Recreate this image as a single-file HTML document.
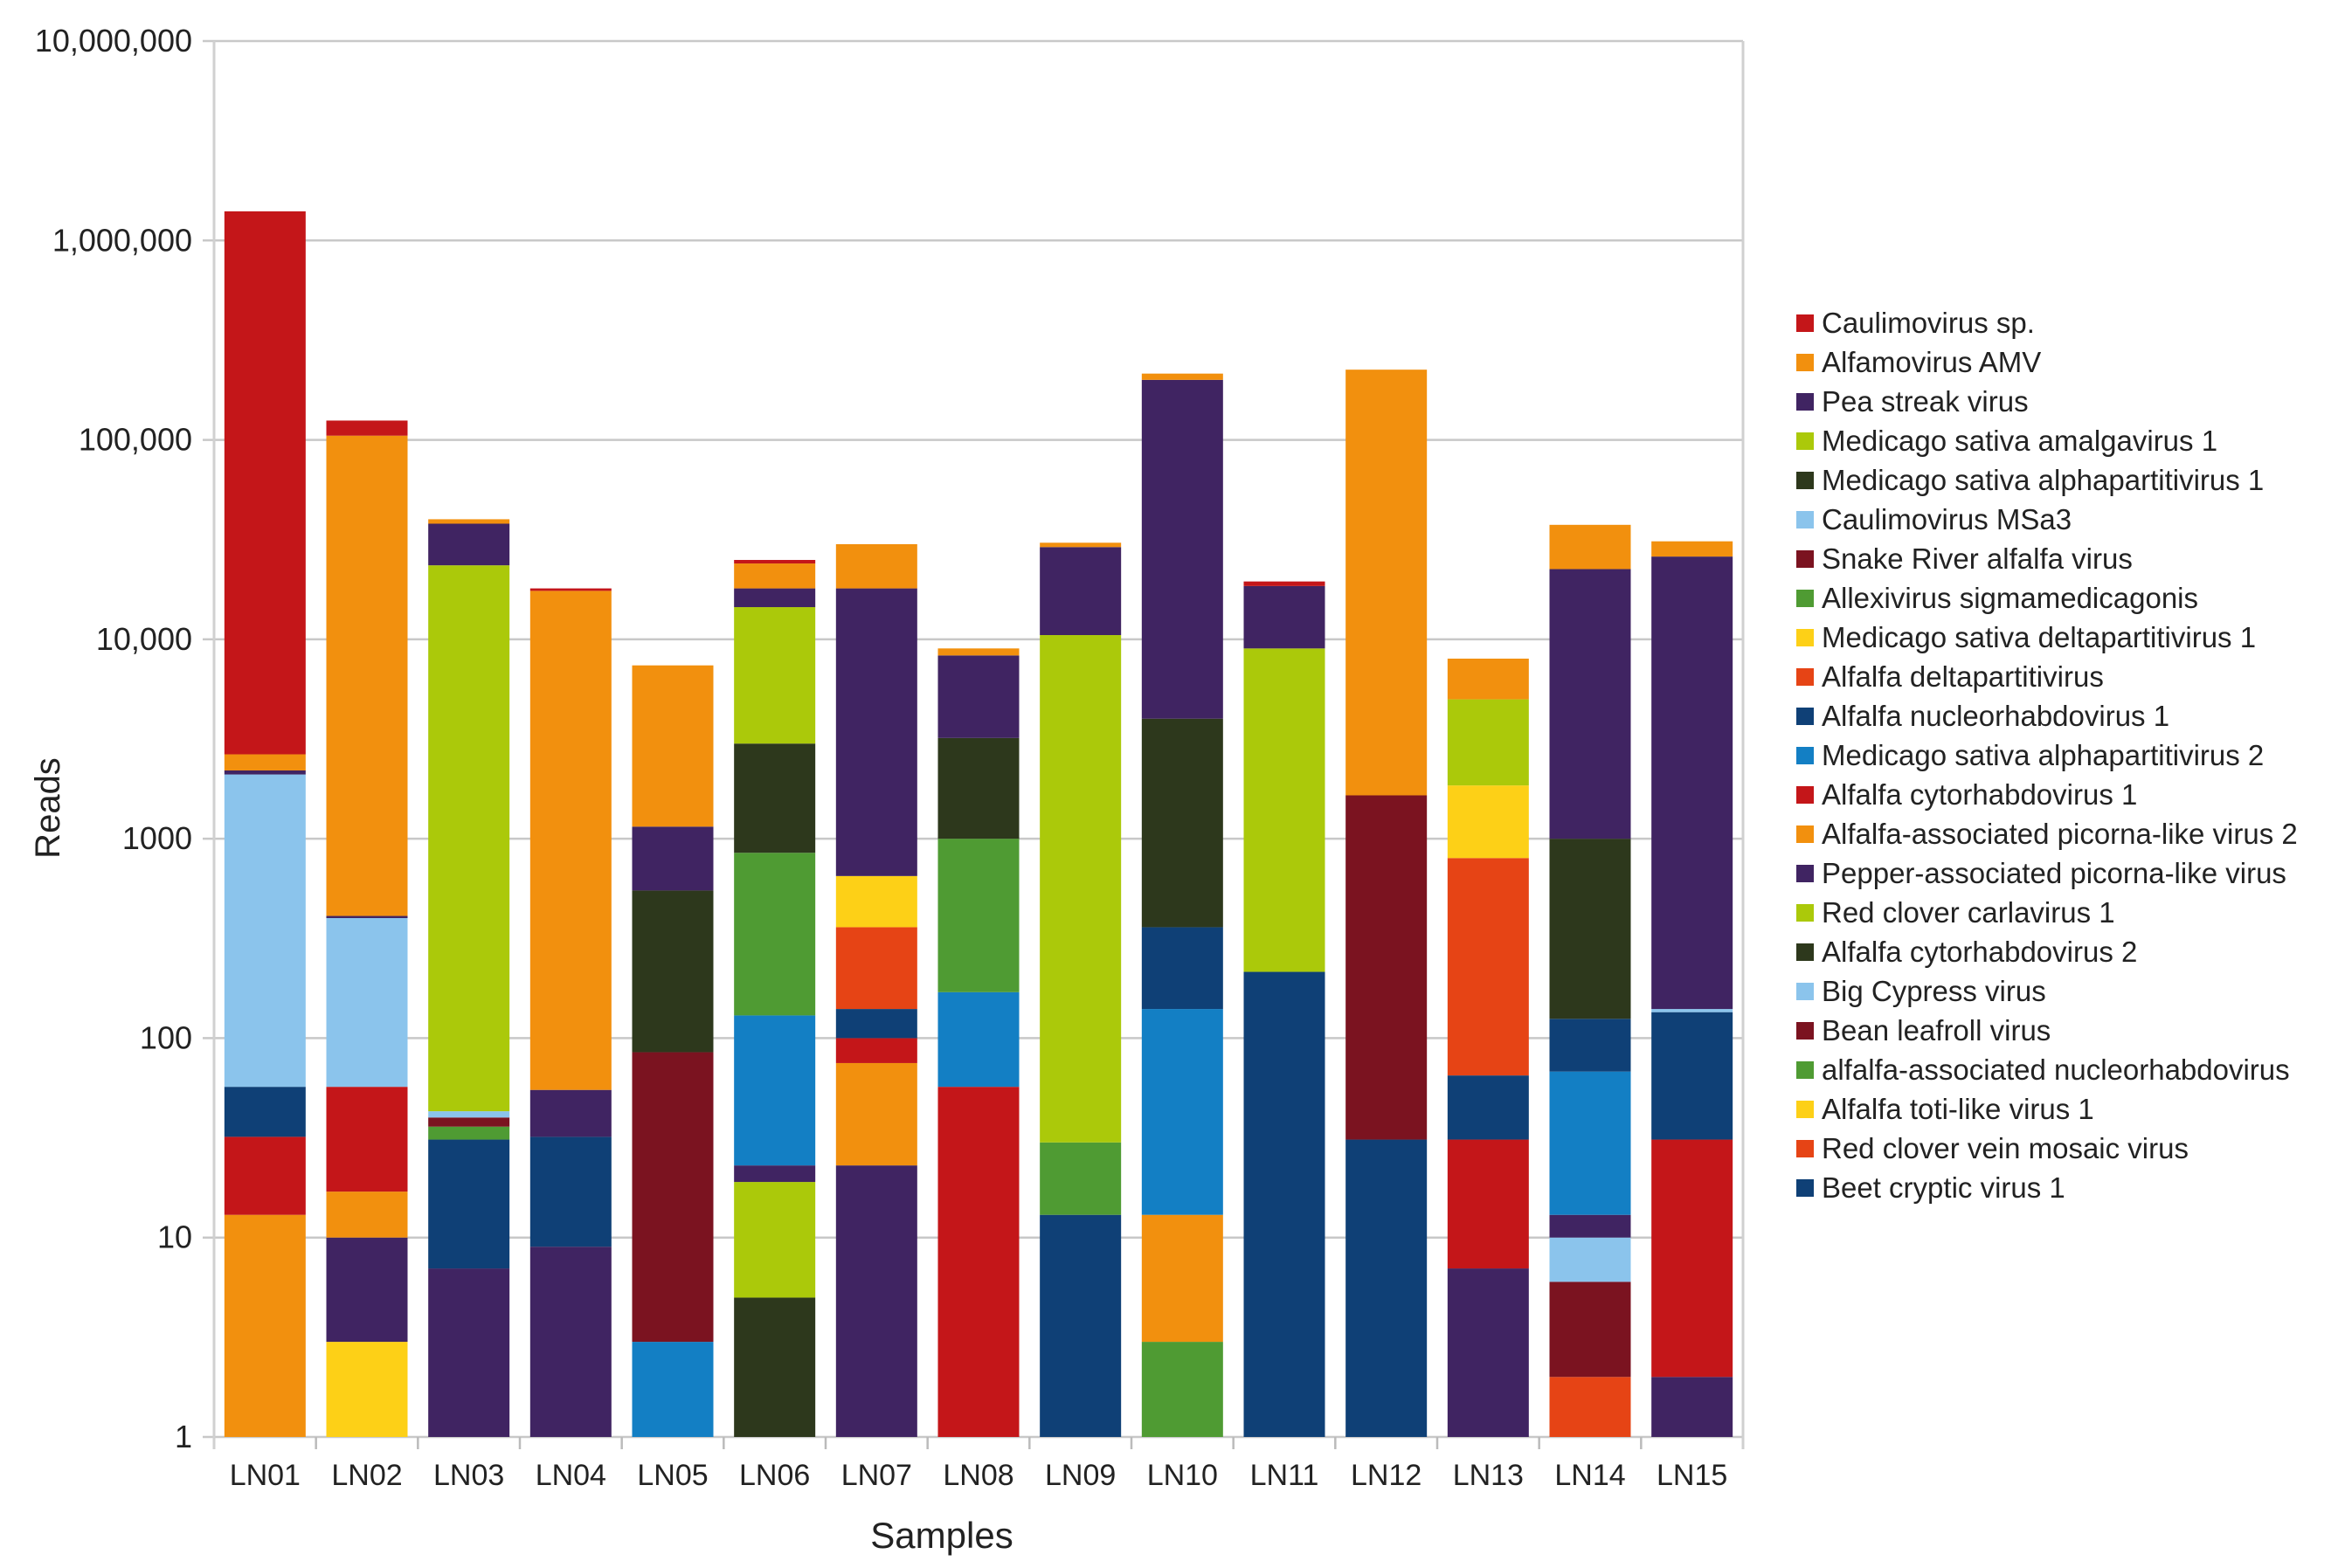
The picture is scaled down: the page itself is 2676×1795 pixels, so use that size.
<!DOCTYPE html>
<html><head><meta charset="utf-8"><style>
html,body{margin:0;padding:0;background:#fff;}
svg{display:block;font-family:"Liberation Sans",sans-serif;}
</style></head><body>
<svg id="chart" width="2676" height="1795" viewBox="0 0 2676 1795" xmlns="http://www.w3.org/2000/svg">
<g id="grid"></g>
<g id="bars"></g>
<g id="axes"></g>
<g id="legend"></g>
<text x="1078" y="1772" font-size="42" text-anchor="middle" fill="#222">Samples</text>
<text transform="translate(68,925) rotate(-90)" font-size="40" text-anchor="middle" fill="#222">Reads</text>
</svg>
<script>
const categories = ["LN01","LN02","LN03","LN04","LN05","LN06","LN07","LN08","LN09","LN10","LN11","LN12","LN13","LN14","LN15"];
const seriesNames = ["Beet cryptic virus 1","Red clover vein mosaic virus","Alfalfa toti-like virus 1","alfalfa-associated nucleorhabdovirus","Bean leafroll virus","Big Cypress virus","Alfalfa cytorhabdovirus 2","Red clover carlavirus 1","Pepper-associated picorna-like virus","Alfalfa-associated picorna-like virus 2","Alfalfa cytorhabdovirus 1","Medicago sativa alphapartitivirus 2","Alfalfa nucleorhabdovirus 1","Alfalfa deltapartitivirus","Medicago sativa deltapartitivirus 1","Allexivirus sigmamedicagonis","Snake River alfalfa virus","Caulimovirus MSa3","Medicago sativa alphapartitivirus 1","Medicago sativa amalgavirus 1","Pea streak virus","Alfamovirus AMV","Caulimovirus sp."];
const seriesColors = ["#0f4076","#e64415","#fdd017","#4f9b33","#7b1320","#8bc4ec","#2d381c","#abc90a","#402462","#f2900e","#c41619","#137fc4","#0f4076","#e64415","#fdd017","#4f9b33","#7b1320","#8bc4ec","#2d381c","#abc90a","#402462","#f2900e","#c41619"];
// per sample: series index of each stacked segment (bottom to top)
const stackSeries = [
 [9,10,12,17,20,21,22],
 [2,8,9,10,17,20,21,22],
 [8,12,15,16,17,19,20,21],
 [8,12,20,21,22],
 [11,16,18,20,21],
 [6,7,8,11,15,18,19,20,21,22],
 [8,9,10,12,13,14,20,21],
 [10,11,15,18,20,21],
 [0,3,7,20,21],
 [3,9,11,12,18,20,21],
 [0,7,20,22],
 [0,4,21],
 [8,10,12,13,14,19,21],
 [1,4,5,8,11,12,18,20,21],
 [8,10,12,17,20,21]
];
// per sample: cumulative reads at top of each segment
const stackTops = [
 [13,32,57,2100,2200,2650,1400000],
 [3,10,17,57,400,410,105000,125000],
 [7,31,36,40,43,23500,38000,40000],
 [9,32,55,17500,18000],
 [3,85,550,1150,7400],
 [5,19,23,130,850,3000,14500,18000,24000,25000],
 [23,75,100,140,360,650,18000,30000],
 [57,170,1000,3200,8300,9000],
 [13,30,10500,29000,30500],
 [3,13,140,360,4000,200000,215000],
 [215,9000,18500,19500],
 [31,1650,225000],
 [7,31,65,800,1850,5000,8000],
 [2,6,10,13,68,125,1000,22500,37500],
 [2,31,135,140,26000,31000]
];
const yTickValues = [1,10,100,1000,10000,100000,1000000,10000000];
const yTickLabels = ["1","10","100","1000","10,000","100,000","1,000,000","10,000,000"];

const NS="http://www.w3.org/2000/svg";
const X0=245, X1=1995, YTOP=47, YBOT=1645, DEC=(1645-47)/7;
const catW=(X1-X0)/categories.length, barW=93;
function yScale(v){return YBOT-Math.log10(v)*DEC;}
function xCenter(i){return X0+catW*(i+0.5);}
function mk(tag,attrs,parent){const e=document.createElementNS(NS,tag);for(const k in attrs)e.setAttribute(k,attrs[k]);parent.appendChild(e);return e;}
const grid=document.getElementById('grid'),bars=document.getElementById('bars'),axes=document.getElementById('axes'),legend=document.getElementById('legend');
yTickValues.forEach((v,i)=>{
  const y=yScale(v);
  const l=mk('line',{x1:X0-13,x2:X1,y1:y,y2:y,stroke:'#c8c8c8','stroke-width':2.5},grid);
  
  
  const t=mk('text',{x:220,y:y+12,'font-size':36,'text-anchor':'end',fill:'#222'},axes);
  t.textContent=yTickLabels[i];
  
  
});
categories.forEach((c,i)=>{
  let prev=1;
  stackSeries[i].forEach((s,j)=>{
    const top=stackTops[i][j];
    const y1=yScale(top),y0=yScale(prev);
    const r=mk('rect',{x:xCenter(i)-barW/2,y:y1,width:barW,height:Math.max(0,y0-y1),fill:seriesColors[s]},bars);
    
    
    prev=top;
  });
  const t=mk('text',{x:xCenter(i),y:1700,'font-size':34,'text-anchor':'middle',fill:'#222'},axes);
  t.textContent=c;
  
  
});
for(let i=0;i<=categories.length;i++){
  const x=X0+catW*i;
  mk('line',{x1:x,x2:x,y1:YBOT,y2:YBOT+14,stroke:'#bbb','stroke-width':2.5},axes);
}
mk('line',{x1:X0,x2:X0,y1:YTOP,y2:YBOT+14,stroke:'#d0d0d0','stroke-width':3},axes);
mk('line',{x1:X1,x2:X1,y1:YTOP,y2:YBOT+14,stroke:'#d0d0d0','stroke-width':3},axes);
const legendOrder=seriesNames.map((n,i)=>i).reverse();
legendOrder.forEach((s,k)=>{
  const y=370+k*45.0;
  const g=mk('g',{},legend);
  
  
  mk('rect',{x:2056,y:y-10,width:20,height:20,fill:seriesColors[s]},g);
  const t=mk('text',{x:2085,y:y+11,'font-size':33,fill:'#222'},g);
  t.textContent=seriesNames[s];
});
</script>
</body></html>
